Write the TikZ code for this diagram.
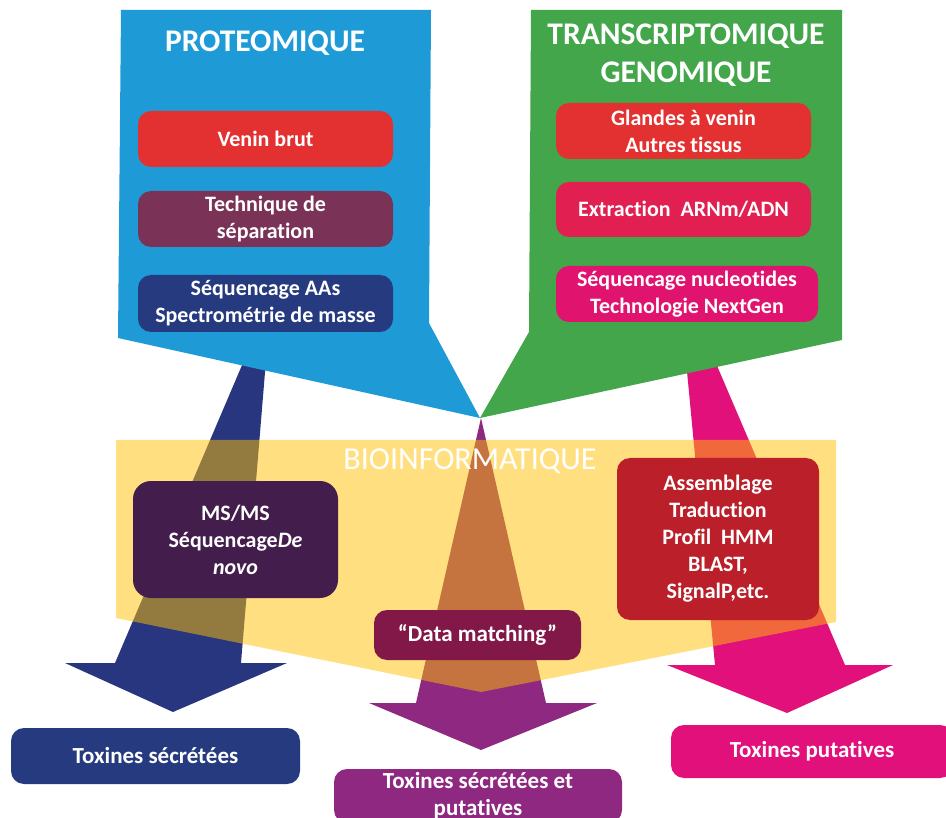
\documentclass[tikz,border=0pt]{standalone}
\usepackage{fontspec}
\setmainfont{Carlito}[Ligatures=NoCommon]
\definecolor{panelblue}{HTML}{1E9BD7}
\definecolor{panelgreen}{HTML}{43A64A}
\definecolor{boxred}{HTML}{E23130}
\definecolor{boxplum}{HTML}{7A3357}
\definecolor{boxnavy}{HTML}{263A80}
\definecolor{boxcrimson}{HTML}{E11F50}
\definecolor{boxmagenta}{HTML}{E0146F}
\definecolor{boxaubergine}{HTML}{431E4C}
\definecolor{boxbrick}{HTML}{BB1F2A}
\definecolor{boxwine}{HTML}{821848}
\definecolor{arrownavy}{HTML}{28357F}
\definecolor{arrowpurple}{HTML}{8E2880}
\definecolor{arrowpink}{HTML}{E1107A}
\definecolor{bandyellow}{HTML}{FFC000}
\begin{document}
\begin{tikzpicture}[x=1pt,y=-1pt,
  pill/.style={rounded corners=13pt, fill=#1, text=white, inner sep=0pt, align=center,
    font=\bfseries\fontsize{22}{27}\selectfont},
  bigpill/.style={pill=#1, rounded corners=18pt},
  endpill/.style={pill=#1, font=\bfseries\fontsize{23}{27}\selectfont},
  heading/.style={text=white, inner sep=0pt, anchor=base,
    font=\bfseries\fontsize{31.5}{38}\selectfont},
  bandtitle/.style={text=white, inner sep=0pt, anchor=base,
    font=\fontsize{32}{38}\selectfont}]

\useasboundingbox (0,0) rectangle (946,818);
\clip (0,0) rectangle (946,818);

% tapered arrows leading down to the results
\fill[arrownavy] (257,330) -- (268.5,330) -- (241,663) -- (287,663) -- (173,712)
  -- (65,663) -- (115,663) -- cycle;
\fill[arrowpurple] (481,418) -- (546,703) -- (597,703) -- (481,750) -- (369,703)
  -- (416,703) -- cycle;
\fill[arrowpink] (684,340) -- (706,340) -- (845,665) -- (893,665) -- (787,713)
  -- (667,665) -- (715,665) -- cycle;

% the two source panels meeting at a common point
\coordinate (meet) at (480,418);
\fill[panelblue] (121,10) -- (431,10) -- (429,323) -- (meet) -- (118,338) -- cycle;
\fill[panelgreen] (531,10) -- (842,10) -- (842,340) -- (meet) -- (529,332) -- cycle;

% translucent bioinformatics band
\fill[bandyellow, fill opacity=0.5] (116,440) -- (836,440) -- (836,622) -- (481,692)
  -- (116,618) -- cycle;

% proteomics
\node[heading] (prot) at (265,52) {PROTEOMIQUE};
\node[pill=boxred, minimum width=255pt, minimum height=56pt] (venin) at (265.5,139) {Venin brut};
\node[pill=boxplum, minimum width=255pt, minimum height=56pt] (sep) at (265.5,219) {Technique de\\séparation};
\node[pill=boxnavy, minimum width=255pt, minimum height=57pt] (seqaa) at (265.5,303.5) {Séquencage AAs\\Spectrométrie de masse};

% transcriptomics / genomics
\node[heading] (trans) at (686,45) {TRANSCRIPTOMIQUE};
\node[heading] (geno) at (686,83) {GENOMIQUE};
\node[pill=boxred, minimum width=255pt, minimum height=56pt] (gland) at (683.5,131) {Glandes à venin\\Autres tissus};
\node[pill=boxcrimson, minimum width=255pt, minimum height=55pt] (extr) at (683.5,209.5) {Extraction\ \ ARNm/ADN};
\node[pill=boxmagenta, minimum width=262pt, minimum height=56pt] (seqnuc) at (687,294) {Séquencage nucleotides\\Technologie NextGen};

% bioinformatics
\node[bandtitle] (bio) at (470,469) {BIOINFORMATIQUE};
\node[bigpill=boxaubergine, minimum width=205pt, minimum height=117pt] (msms) at (235.5,539.5)
  {MS/MS\\Séquencage\textit{De}\\\textit{novo}};
\node[pill=boxbrick, minimum width=202pt, minimum height=162pt] (assem) at (718,539)
  {Assemblage\\Traduction\\Profil\ \ HMM\\BLAST,\\SignalP,etc.};
\node[endpill=boxwine, minimum width=207pt, minimum height=50pt] (match) at (477.5,635) {“Data matching”};

% results
\node[endpill=boxnavy, minimum width=289pt, minimum height=56pt] (tsec) at (155.5,756) {Toxines sécrétées};
\node[endpill=arrowpurple, minimum width=288pt, minimum height=54pt] (tboth) at (478,796) {Toxines sécrétées et\\putatives};
\node[endpill=arrowpink, minimum width=282pt, minimum height=53pt] (tput) at (812,751.5) {Toxines putatives};
\end{tikzpicture}
\end{document}
